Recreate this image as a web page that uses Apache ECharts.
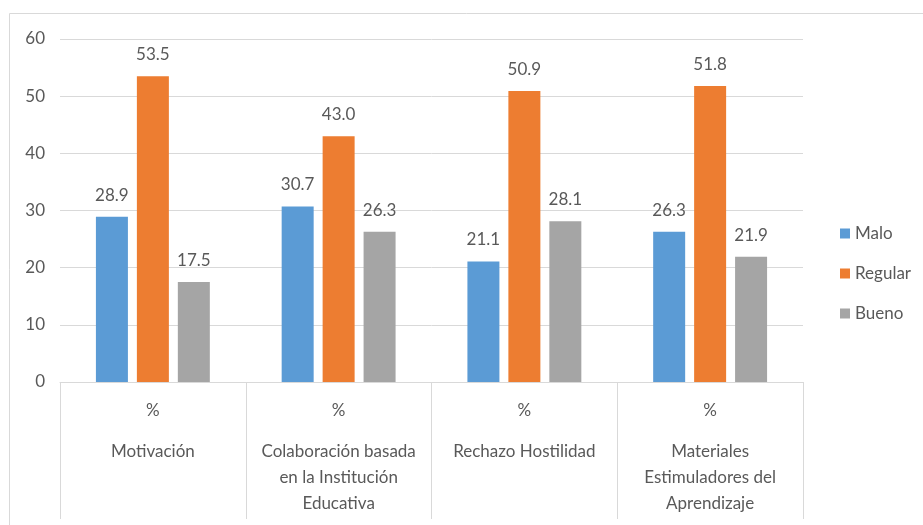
<!DOCTYPE html>
<html><head><meta charset="utf-8">
<script src="https://cdn.jsdelivr.net/npm/echarts@6/dist/echarts.min.js"></script>
<style>html,body{margin:0;padding:0;background:#fff}#c{width:923px;height:525px}</style>
</head><body><div id="c"></div>
<script>
const categories = [
  ['Motivación'],
  ['Colaboración basada', 'en la Institución', 'Educativa'],
  ['Rechazo Hostilidad'],
  ['Materiales', 'Estimuladores del', 'Aprendizaje']
];
const unitLabel = '%';
const seriesNames = ['Malo', 'Regular', 'Bueno'];
const malo = [28.9, 30.7, 21.1, 26.3];
const regular = [53.5, 43.0, 50.9, 51.8];
const bueno = [17.5, 26.3, 28.1, 21.9];
const colors = ['#5B9BD5', '#ED7D31', '#A5A5A5'];
const yTicks = {min: 0, max: 60, interval: 10};

const FONT = 'Lato, "Noto Sans", sans-serif';
const TXT = '#595959';
const FS = 17;
const chart = echarts.init(document.getElementById('c'));
const catKeys = categories.map((c, i) => String(i));
const mk = (name, data, color) => ({
  name, type: 'bar', data, barWidth: 32, barGap: '28%',
  itemStyle: {color},
  label: {show: true, position: 'top', distance: 13, color: TXT, fontSize: FS, fontFamily: FONT,
    formatter: p => p.value.toFixed(1)}
});
chart.setOption({
  animation: false,
  graphic: [{type: 'rect', shape: {x: 9.5, y: 13.5, width: 940, height: 540},
    style: {fill: 'none', stroke: '#d9d9d9', lineWidth: 1}, silent: true}],
  grid: {left: 60, right: 120, top: 39, bottom: 143},
  legend: {orient: 'vertical', left: 835, top: 220, itemWidth: 10, itemHeight: 10, itemGap: 23,
    icon: 'rect', textStyle: {color: TXT, fontSize: FS, fontFamily: FONT},
    data: seriesNames},
  xAxis: {type: 'category', data: catKeys,
    axisLine: {lineStyle: {color: '#d9d9d9'}},
    axisTick: {show: true, length: 137, lineStyle: {color: '#d9d9d9'}},
    axisLabel: {interval: 0, margin: 1, color: TXT, fontFamily: FONT, fontSize: FS,
      formatter: v => {
        const lines = categories[+v];
        return '{p|' + unitLabel + '}\n' + lines.map(l => '{n|' + l + '}').join('\n');
      },
      rich: {p: {lineHeight: 56, fontSize: FS, fontFamily: FONT, color: TXT},
             n: {lineHeight: 26, fontSize: FS, fontFamily: FONT, color: TXT}}}
  },
  yAxis: {type: 'value', min: yTicks.min, max: yTicks.max, interval: yTicks.interval,
    axisLine: {show: false}, axisTick: {show: false},
    axisLabel: {color: TXT, fontSize: FS, fontFamily: FONT, margin: 15},
    splitLine: {lineStyle: {color: '#d9d9d9'}}
  },
  series: [mk(seriesNames[0], malo, colors[0]), mk(seriesNames[1], regular, colors[1]), mk(seriesNames[2], bueno, colors[2])]
});
</script></body></html>
